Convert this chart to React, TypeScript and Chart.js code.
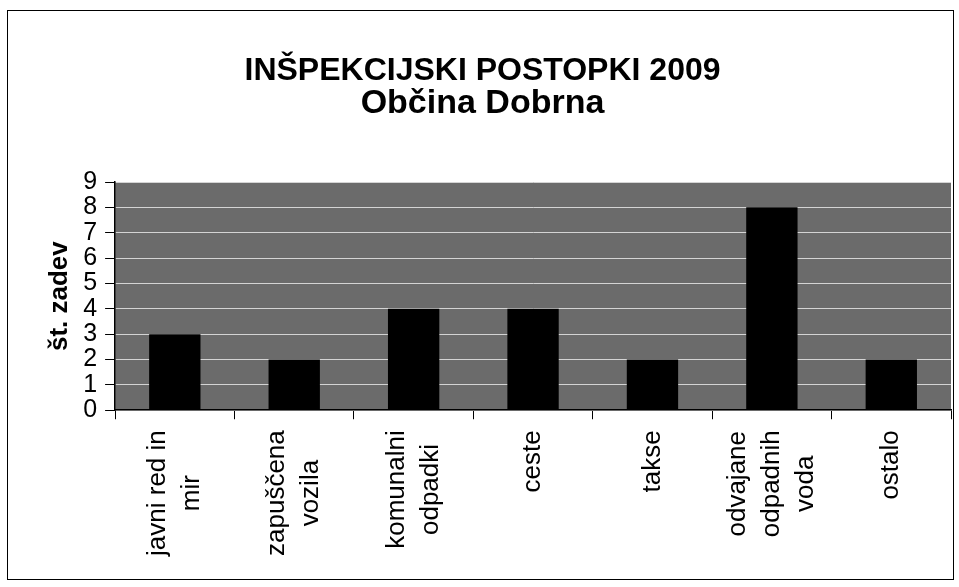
import React, { useEffect, useRef } from "react";
import { Chart, registerables } from "chart.js";

Chart.register(...registerables);

const categories: string[][] = [
  ["javni red in", "mir"],
  ["zapuščena", "vozila"],
  ["komunalni", "odpadki"],
  ["ceste"],
  ["takse"],
  ["odvajane", "odpadnih", "voda"],
  ["ostalo"],
];
const values: number[] = [3, 2, 4, 4, 2, 8, 2];
const titleText = "INŠPEKCIJSKI POSTOPKI 2009";
const subtitleText = "Občina Dobrna";
const yAxisTitle = "št. zadev";

const FONT = "'Liberation Sans', Arial, sans-serif";
const X_FONT_SIZE = 26;
const X_LINE_H = 34;
const X_TICK_LEN = 9;
const X_PAD = 11;

const plotBg = {
  id: "plotBg",
  beforeDraw(chart: any) {
    const { ctx, chartArea } = chart;
    if (!chartArea) return;
    ctx.save();
    ctx.fillStyle = "#6b6b6b";
    ctx.fillRect(chartArea.left, chartArea.top, chartArea.right - chartArea.left, chartArea.bottom - chartArea.top);
    ctx.restore();
  },
};

// Draws the category labels rotated, with each line centred in its block (as in the original)
const xLabels = {
  id: "xLabels",
  afterDraw(chart: any) {
    const { ctx } = chart;
    const xs = chart.scales.x;
    ctx.save();
    ctx.fillStyle = "#000";
    ctx.font = `${X_FONT_SIZE}px ${FONT}`;
    ctx.textAlign = "center";
    ctx.textBaseline = "middle";
    const top = xs.top + X_TICK_LEN + X_PAD;
    categories.forEach((lines, i) => {
      const cx = xs.getPixelForTick(i);
      const maxW = Math.max(...lines.map((l) => ctx.measureText(l).width));
      const n = lines.length;
      lines.forEach((line, k) => {
        const lx = cx + (k - (n - 1) / 2) * X_LINE_H;
        ctx.save();
        ctx.translate(lx, top + maxW / 2);
        ctx.rotate(-Math.PI / 2);
        ctx.fillText(line, 0, 0);
        ctx.restore();
      });
    });
    ctx.restore();
  },
};

export default function App() {
  const ref = useRef<HTMLCanvasElement | null>(null);
  useEffect(() => {
    if (!ref.current) return;
    const chart = new Chart(ref.current, {
      type: "bar",
      data: {
        labels: categories,
        datasets: [
          {
            data: values,
            backgroundColor: "#000000",
            borderWidth: 0,
            categoryPercentage: 1,
            barPercentage: 0.43,
          },
        ],
      },
      options: {
        animation: false,
        responsive: true,
        maintainAspectRatio: false,
        layout: { padding: { left: 6, right: 2, top: 0, bottom: 12 } },
        plugins: {
          legend: { display: false },
          tooltip: { enabled: false },
          title: {
            display: true,
            text: titleText,
            color: "#000",
            font: { family: FONT, size: 32, weight: "bold", lineHeight: 1 },
            padding: { top: 44, bottom: 0 },
          },
          subtitle: {
            display: true,
            text: subtitleText,
            color: "#000",
            font: { family: FONT, size: 34, weight: "bold", lineHeight: 1 },
            padding: { top: 0, bottom: 61 },
          },
        },
        scales: {
          x: {
            offset: true,
            grid: {
              offset: true,
              drawOnChartArea: false,
              drawTicks: true,
              tickLength: X_TICK_LEN,
              color: "#000",
            },
            border: { display: true, color: "#000", width: 1.5 },
            ticks: {
              color: "rgba(0,0,0,0)",
              font: { family: FONT, size: X_FONT_SIZE, lineHeight: X_LINE_H / X_FONT_SIZE },
              minRotation: 90,
              maxRotation: 90,
              autoSkip: false,
              padding: X_PAD,
            },
          },
          y: {
            min: 0,
            max: 9,
            grid: {
              color: "#d4d4d4",
              lineWidth: 1,
              drawTicks: true,
              tickLength: 10,
              tickColor: "#000",
            },
            border: { display: true, color: "#000", width: 1.5 },
            ticks: {
              stepSize: 1,
              autoSkip: false,
              color: "#000",
              font: { family: FONT, size: 25, lineHeight: 1 },
              padding: 8,
            },
            title: {
              display: true,
              text: yAxisTitle,
              color: "#000",
              font: { family: FONT, size: 26, weight: "bold" },
              padding: { top: 30, bottom: 0 },
            },
          },
        },
      },
      plugins: [plotBg, xLabels],
    });
    return () => chart.destroy();
  }, []);
  return (
    <div
      style={{
        position: "absolute",
        left: 7,
        top: 10,
        width: 947,
        height: 570,
        boxSizing: "border-box",
        border: "1.5px solid #000",
        background: "#fff",
      }}
    >
      <canvas ref={ref} />
    </div>
  );
}
